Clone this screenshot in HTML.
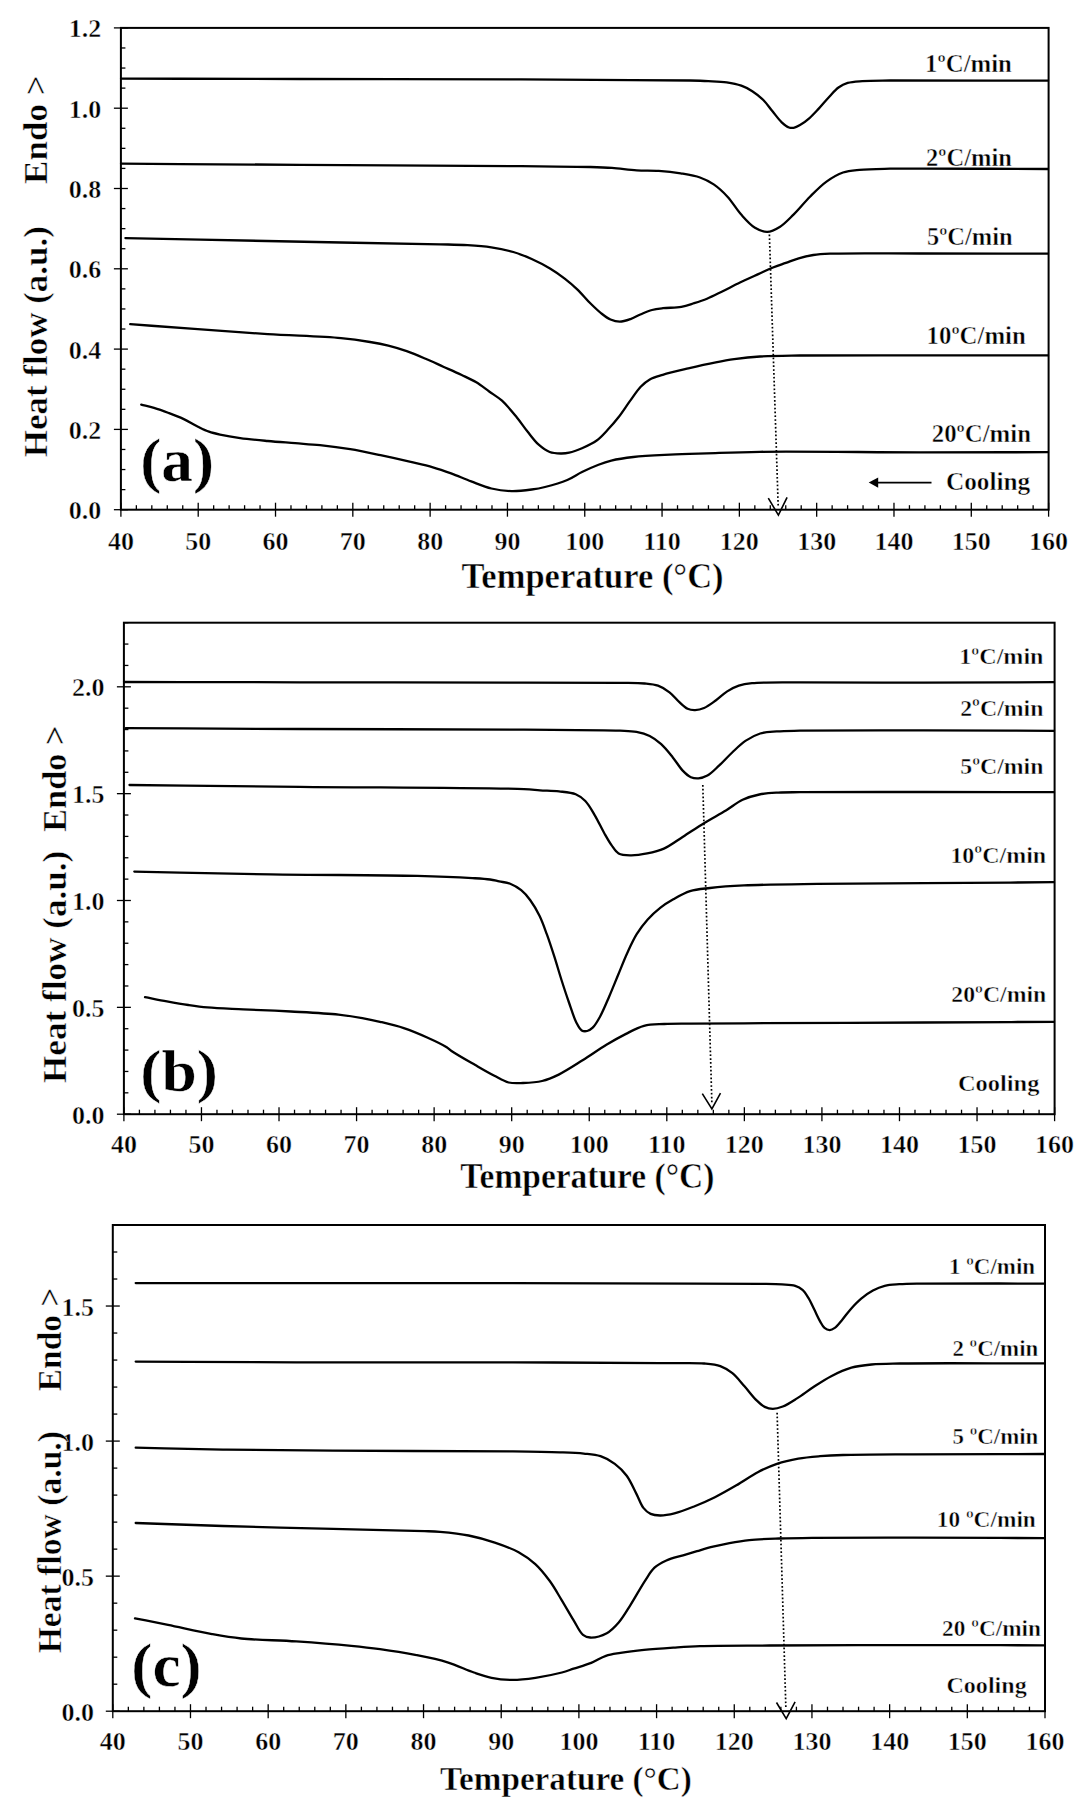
<!DOCTYPE html>
<html><head><meta charset="utf-8"><style>
html,body{margin:0;padding:0;background:#fff;}
svg{display:block;}
text{font-family:"Liberation Serif", serif;font-weight:bold;fill:#000;stroke:#fff;stroke-width:0.45px;paint-order:fill;}
</style></head><body>
<svg width="1091" height="1814" viewBox="0 0 1091 1814">
<rect x="120.90" y="27.90" width="927.70" height="481.80" fill="none" stroke="#000" stroke-width="2"/>
<line x1="120.90" y1="502.70" x2="120.90" y2="516.70" stroke="#000" stroke-width="1.3"/>
<text x="120.90" y="550.40" text-anchor="middle" style="font-size:26px">40</text>
<line x1="136.36" y1="505.20" x2="136.36" y2="509.70" stroke="#000" stroke-width="1.3"/>
<line x1="151.82" y1="505.20" x2="151.82" y2="509.70" stroke="#000" stroke-width="1.3"/>
<line x1="167.28" y1="505.20" x2="167.28" y2="509.70" stroke="#000" stroke-width="1.3"/>
<line x1="182.75" y1="505.20" x2="182.75" y2="509.70" stroke="#000" stroke-width="1.3"/>
<line x1="198.21" y1="502.70" x2="198.21" y2="516.70" stroke="#000" stroke-width="1.3"/>
<text x="198.21" y="550.40" text-anchor="middle" style="font-size:26px">50</text>
<line x1="213.67" y1="505.20" x2="213.67" y2="509.70" stroke="#000" stroke-width="1.3"/>
<line x1="229.13" y1="505.20" x2="229.13" y2="509.70" stroke="#000" stroke-width="1.3"/>
<line x1="244.59" y1="505.20" x2="244.59" y2="509.70" stroke="#000" stroke-width="1.3"/>
<line x1="260.05" y1="505.20" x2="260.05" y2="509.70" stroke="#000" stroke-width="1.3"/>
<line x1="275.52" y1="502.70" x2="275.52" y2="516.70" stroke="#000" stroke-width="1.3"/>
<text x="275.52" y="550.40" text-anchor="middle" style="font-size:26px">60</text>
<line x1="290.98" y1="505.20" x2="290.98" y2="509.70" stroke="#000" stroke-width="1.3"/>
<line x1="306.44" y1="505.20" x2="306.44" y2="509.70" stroke="#000" stroke-width="1.3"/>
<line x1="321.90" y1="505.20" x2="321.90" y2="509.70" stroke="#000" stroke-width="1.3"/>
<line x1="337.36" y1="505.20" x2="337.36" y2="509.70" stroke="#000" stroke-width="1.3"/>
<line x1="352.82" y1="502.70" x2="352.82" y2="516.70" stroke="#000" stroke-width="1.3"/>
<text x="352.82" y="550.40" text-anchor="middle" style="font-size:26px">70</text>
<line x1="368.29" y1="505.20" x2="368.29" y2="509.70" stroke="#000" stroke-width="1.3"/>
<line x1="383.75" y1="505.20" x2="383.75" y2="509.70" stroke="#000" stroke-width="1.3"/>
<line x1="399.21" y1="505.20" x2="399.21" y2="509.70" stroke="#000" stroke-width="1.3"/>
<line x1="414.67" y1="505.20" x2="414.67" y2="509.70" stroke="#000" stroke-width="1.3"/>
<line x1="430.13" y1="502.70" x2="430.13" y2="516.70" stroke="#000" stroke-width="1.3"/>
<text x="430.13" y="550.40" text-anchor="middle" style="font-size:26px">80</text>
<line x1="445.59" y1="505.20" x2="445.59" y2="509.70" stroke="#000" stroke-width="1.3"/>
<line x1="461.06" y1="505.20" x2="461.06" y2="509.70" stroke="#000" stroke-width="1.3"/>
<line x1="476.52" y1="505.20" x2="476.52" y2="509.70" stroke="#000" stroke-width="1.3"/>
<line x1="491.98" y1="505.20" x2="491.98" y2="509.70" stroke="#000" stroke-width="1.3"/>
<line x1="507.44" y1="502.70" x2="507.44" y2="516.70" stroke="#000" stroke-width="1.3"/>
<text x="507.44" y="550.40" text-anchor="middle" style="font-size:26px">90</text>
<line x1="522.90" y1="505.20" x2="522.90" y2="509.70" stroke="#000" stroke-width="1.3"/>
<line x1="538.37" y1="505.20" x2="538.37" y2="509.70" stroke="#000" stroke-width="1.3"/>
<line x1="553.83" y1="505.20" x2="553.83" y2="509.70" stroke="#000" stroke-width="1.3"/>
<line x1="569.29" y1="505.20" x2="569.29" y2="509.70" stroke="#000" stroke-width="1.3"/>
<line x1="584.75" y1="502.70" x2="584.75" y2="516.70" stroke="#000" stroke-width="1.3"/>
<text x="584.75" y="550.40" text-anchor="middle" style="font-size:26px">100</text>
<line x1="600.21" y1="505.20" x2="600.21" y2="509.70" stroke="#000" stroke-width="1.3"/>
<line x1="615.67" y1="505.20" x2="615.67" y2="509.70" stroke="#000" stroke-width="1.3"/>
<line x1="631.13" y1="505.20" x2="631.13" y2="509.70" stroke="#000" stroke-width="1.3"/>
<line x1="646.60" y1="505.20" x2="646.60" y2="509.70" stroke="#000" stroke-width="1.3"/>
<line x1="662.06" y1="502.70" x2="662.06" y2="516.70" stroke="#000" stroke-width="1.3"/>
<text x="662.06" y="550.40" text-anchor="middle" style="font-size:26px">110</text>
<line x1="677.52" y1="505.20" x2="677.52" y2="509.70" stroke="#000" stroke-width="1.3"/>
<line x1="692.98" y1="505.20" x2="692.98" y2="509.70" stroke="#000" stroke-width="1.3"/>
<line x1="708.44" y1="505.20" x2="708.44" y2="509.70" stroke="#000" stroke-width="1.3"/>
<line x1="723.90" y1="505.20" x2="723.90" y2="509.70" stroke="#000" stroke-width="1.3"/>
<line x1="739.37" y1="502.70" x2="739.37" y2="516.70" stroke="#000" stroke-width="1.3"/>
<text x="739.37" y="550.40" text-anchor="middle" style="font-size:26px">120</text>
<line x1="754.83" y1="505.20" x2="754.83" y2="509.70" stroke="#000" stroke-width="1.3"/>
<line x1="770.29" y1="505.20" x2="770.29" y2="509.70" stroke="#000" stroke-width="1.3"/>
<line x1="785.75" y1="505.20" x2="785.75" y2="509.70" stroke="#000" stroke-width="1.3"/>
<line x1="801.21" y1="505.20" x2="801.21" y2="509.70" stroke="#000" stroke-width="1.3"/>
<line x1="816.67" y1="502.70" x2="816.67" y2="516.70" stroke="#000" stroke-width="1.3"/>
<text x="816.67" y="550.40" text-anchor="middle" style="font-size:26px">130</text>
<line x1="832.14" y1="505.20" x2="832.14" y2="509.70" stroke="#000" stroke-width="1.3"/>
<line x1="847.60" y1="505.20" x2="847.60" y2="509.70" stroke="#000" stroke-width="1.3"/>
<line x1="863.06" y1="505.20" x2="863.06" y2="509.70" stroke="#000" stroke-width="1.3"/>
<line x1="878.52" y1="505.20" x2="878.52" y2="509.70" stroke="#000" stroke-width="1.3"/>
<line x1="893.98" y1="502.70" x2="893.98" y2="516.70" stroke="#000" stroke-width="1.3"/>
<text x="893.98" y="550.40" text-anchor="middle" style="font-size:26px">140</text>
<line x1="909.44" y1="505.20" x2="909.44" y2="509.70" stroke="#000" stroke-width="1.3"/>
<line x1="924.91" y1="505.20" x2="924.91" y2="509.70" stroke="#000" stroke-width="1.3"/>
<line x1="940.37" y1="505.20" x2="940.37" y2="509.70" stroke="#000" stroke-width="1.3"/>
<line x1="955.83" y1="505.20" x2="955.83" y2="509.70" stroke="#000" stroke-width="1.3"/>
<line x1="971.29" y1="502.70" x2="971.29" y2="516.70" stroke="#000" stroke-width="1.3"/>
<text x="971.29" y="550.40" text-anchor="middle" style="font-size:26px">150</text>
<line x1="986.75" y1="505.20" x2="986.75" y2="509.70" stroke="#000" stroke-width="1.3"/>
<line x1="1002.21" y1="505.20" x2="1002.21" y2="509.70" stroke="#000" stroke-width="1.3"/>
<line x1="1017.68" y1="505.20" x2="1017.68" y2="509.70" stroke="#000" stroke-width="1.3"/>
<line x1="1033.14" y1="505.20" x2="1033.14" y2="509.70" stroke="#000" stroke-width="1.3"/>
<line x1="1048.60" y1="502.70" x2="1048.60" y2="516.70" stroke="#000" stroke-width="1.3"/>
<text x="1048.60" y="550.40" text-anchor="middle" style="font-size:26px">160</text>
<line x1="113.90" y1="509.70" x2="127.90" y2="509.70" stroke="#000" stroke-width="1.3"/>
<text x="101.20" y="519.20" text-anchor="end" style="font-size:26px">0.0</text>
<line x1="120.90" y1="489.62" x2="125.40" y2="489.62" stroke="#000" stroke-width="1.3"/>
<line x1="120.90" y1="469.55" x2="125.40" y2="469.55" stroke="#000" stroke-width="1.3"/>
<line x1="120.90" y1="449.47" x2="125.40" y2="449.47" stroke="#000" stroke-width="1.3"/>
<line x1="113.90" y1="429.40" x2="127.90" y2="429.40" stroke="#000" stroke-width="1.3"/>
<text x="101.20" y="438.90" text-anchor="end" style="font-size:26px">0.2</text>
<line x1="120.90" y1="409.32" x2="125.40" y2="409.32" stroke="#000" stroke-width="1.3"/>
<line x1="120.90" y1="389.25" x2="125.40" y2="389.25" stroke="#000" stroke-width="1.3"/>
<line x1="120.90" y1="369.17" x2="125.40" y2="369.17" stroke="#000" stroke-width="1.3"/>
<line x1="113.90" y1="349.10" x2="127.90" y2="349.10" stroke="#000" stroke-width="1.3"/>
<text x="101.20" y="358.60" text-anchor="end" style="font-size:26px">0.4</text>
<line x1="120.90" y1="329.02" x2="125.40" y2="329.02" stroke="#000" stroke-width="1.3"/>
<line x1="120.90" y1="308.95" x2="125.40" y2="308.95" stroke="#000" stroke-width="1.3"/>
<line x1="120.90" y1="288.88" x2="125.40" y2="288.88" stroke="#000" stroke-width="1.3"/>
<line x1="113.90" y1="268.80" x2="127.90" y2="268.80" stroke="#000" stroke-width="1.3"/>
<text x="101.20" y="278.30" text-anchor="end" style="font-size:26px">0.6</text>
<line x1="120.90" y1="248.72" x2="125.40" y2="248.72" stroke="#000" stroke-width="1.3"/>
<line x1="120.90" y1="228.65" x2="125.40" y2="228.65" stroke="#000" stroke-width="1.3"/>
<line x1="120.90" y1="208.57" x2="125.40" y2="208.57" stroke="#000" stroke-width="1.3"/>
<line x1="113.90" y1="188.50" x2="127.90" y2="188.50" stroke="#000" stroke-width="1.3"/>
<text x="101.20" y="198.00" text-anchor="end" style="font-size:26px">0.8</text>
<line x1="120.90" y1="168.42" x2="125.40" y2="168.42" stroke="#000" stroke-width="1.3"/>
<line x1="120.90" y1="148.35" x2="125.40" y2="148.35" stroke="#000" stroke-width="1.3"/>
<line x1="120.90" y1="128.27" x2="125.40" y2="128.27" stroke="#000" stroke-width="1.3"/>
<line x1="113.90" y1="108.20" x2="127.90" y2="108.20" stroke="#000" stroke-width="1.3"/>
<text x="101.20" y="117.70" text-anchor="end" style="font-size:26px">1.0</text>
<line x1="120.90" y1="88.12" x2="125.40" y2="88.12" stroke="#000" stroke-width="1.3"/>
<line x1="120.90" y1="68.05" x2="125.40" y2="68.05" stroke="#000" stroke-width="1.3"/>
<line x1="120.90" y1="47.97" x2="125.40" y2="47.97" stroke="#000" stroke-width="1.3"/>
<line x1="113.90" y1="27.90" x2="127.90" y2="27.90" stroke="#000" stroke-width="1.3"/>
<text x="101.20" y="37.40" text-anchor="end" style="font-size:26px">1.2</text>
<rect x="123.90" y="622.70" width="930.70" height="491.50" fill="none" stroke="#000" stroke-width="2"/>
<line x1="123.90" y1="1107.20" x2="123.90" y2="1121.20" stroke="#000" stroke-width="1.3"/>
<text x="123.90" y="1152.80" text-anchor="middle" style="font-size:26px">40</text>
<line x1="139.41" y1="1109.70" x2="139.41" y2="1114.20" stroke="#000" stroke-width="1.3"/>
<line x1="154.92" y1="1109.70" x2="154.92" y2="1114.20" stroke="#000" stroke-width="1.3"/>
<line x1="170.44" y1="1109.70" x2="170.44" y2="1114.20" stroke="#000" stroke-width="1.3"/>
<line x1="185.95" y1="1109.70" x2="185.95" y2="1114.20" stroke="#000" stroke-width="1.3"/>
<line x1="201.46" y1="1107.20" x2="201.46" y2="1121.20" stroke="#000" stroke-width="1.3"/>
<text x="201.46" y="1152.80" text-anchor="middle" style="font-size:26px">50</text>
<line x1="216.97" y1="1109.70" x2="216.97" y2="1114.20" stroke="#000" stroke-width="1.3"/>
<line x1="232.48" y1="1109.70" x2="232.48" y2="1114.20" stroke="#000" stroke-width="1.3"/>
<line x1="247.99" y1="1109.70" x2="247.99" y2="1114.20" stroke="#000" stroke-width="1.3"/>
<line x1="263.50" y1="1109.70" x2="263.50" y2="1114.20" stroke="#000" stroke-width="1.3"/>
<line x1="279.02" y1="1107.20" x2="279.02" y2="1121.20" stroke="#000" stroke-width="1.3"/>
<text x="279.02" y="1152.80" text-anchor="middle" style="font-size:26px">60</text>
<line x1="294.53" y1="1109.70" x2="294.53" y2="1114.20" stroke="#000" stroke-width="1.3"/>
<line x1="310.04" y1="1109.70" x2="310.04" y2="1114.20" stroke="#000" stroke-width="1.3"/>
<line x1="325.55" y1="1109.70" x2="325.55" y2="1114.20" stroke="#000" stroke-width="1.3"/>
<line x1="341.06" y1="1109.70" x2="341.06" y2="1114.20" stroke="#000" stroke-width="1.3"/>
<line x1="356.57" y1="1107.20" x2="356.57" y2="1121.20" stroke="#000" stroke-width="1.3"/>
<text x="356.57" y="1152.80" text-anchor="middle" style="font-size:26px">70</text>
<line x1="372.09" y1="1109.70" x2="372.09" y2="1114.20" stroke="#000" stroke-width="1.3"/>
<line x1="387.60" y1="1109.70" x2="387.60" y2="1114.20" stroke="#000" stroke-width="1.3"/>
<line x1="403.11" y1="1109.70" x2="403.11" y2="1114.20" stroke="#000" stroke-width="1.3"/>
<line x1="418.62" y1="1109.70" x2="418.62" y2="1114.20" stroke="#000" stroke-width="1.3"/>
<line x1="434.13" y1="1107.20" x2="434.13" y2="1121.20" stroke="#000" stroke-width="1.3"/>
<text x="434.13" y="1152.80" text-anchor="middle" style="font-size:26px">80</text>
<line x1="449.64" y1="1109.70" x2="449.64" y2="1114.20" stroke="#000" stroke-width="1.3"/>
<line x1="465.16" y1="1109.70" x2="465.16" y2="1114.20" stroke="#000" stroke-width="1.3"/>
<line x1="480.67" y1="1109.70" x2="480.67" y2="1114.20" stroke="#000" stroke-width="1.3"/>
<line x1="496.18" y1="1109.70" x2="496.18" y2="1114.20" stroke="#000" stroke-width="1.3"/>
<line x1="511.69" y1="1107.20" x2="511.69" y2="1121.20" stroke="#000" stroke-width="1.3"/>
<text x="511.69" y="1152.80" text-anchor="middle" style="font-size:26px">90</text>
<line x1="527.20" y1="1109.70" x2="527.20" y2="1114.20" stroke="#000" stroke-width="1.3"/>
<line x1="542.72" y1="1109.70" x2="542.72" y2="1114.20" stroke="#000" stroke-width="1.3"/>
<line x1="558.23" y1="1109.70" x2="558.23" y2="1114.20" stroke="#000" stroke-width="1.3"/>
<line x1="573.74" y1="1109.70" x2="573.74" y2="1114.20" stroke="#000" stroke-width="1.3"/>
<line x1="589.25" y1="1107.20" x2="589.25" y2="1121.20" stroke="#000" stroke-width="1.3"/>
<text x="589.25" y="1152.80" text-anchor="middle" style="font-size:26px">100</text>
<line x1="604.76" y1="1109.70" x2="604.76" y2="1114.20" stroke="#000" stroke-width="1.3"/>
<line x1="620.27" y1="1109.70" x2="620.27" y2="1114.20" stroke="#000" stroke-width="1.3"/>
<line x1="635.78" y1="1109.70" x2="635.78" y2="1114.20" stroke="#000" stroke-width="1.3"/>
<line x1="651.30" y1="1109.70" x2="651.30" y2="1114.20" stroke="#000" stroke-width="1.3"/>
<line x1="666.81" y1="1107.20" x2="666.81" y2="1121.20" stroke="#000" stroke-width="1.3"/>
<text x="666.81" y="1152.80" text-anchor="middle" style="font-size:26px">110</text>
<line x1="682.32" y1="1109.70" x2="682.32" y2="1114.20" stroke="#000" stroke-width="1.3"/>
<line x1="697.83" y1="1109.70" x2="697.83" y2="1114.20" stroke="#000" stroke-width="1.3"/>
<line x1="713.34" y1="1109.70" x2="713.34" y2="1114.20" stroke="#000" stroke-width="1.3"/>
<line x1="728.85" y1="1109.70" x2="728.85" y2="1114.20" stroke="#000" stroke-width="1.3"/>
<line x1="744.37" y1="1107.20" x2="744.37" y2="1121.20" stroke="#000" stroke-width="1.3"/>
<text x="744.37" y="1152.80" text-anchor="middle" style="font-size:26px">120</text>
<line x1="759.88" y1="1109.70" x2="759.88" y2="1114.20" stroke="#000" stroke-width="1.3"/>
<line x1="775.39" y1="1109.70" x2="775.39" y2="1114.20" stroke="#000" stroke-width="1.3"/>
<line x1="790.90" y1="1109.70" x2="790.90" y2="1114.20" stroke="#000" stroke-width="1.3"/>
<line x1="806.41" y1="1109.70" x2="806.41" y2="1114.20" stroke="#000" stroke-width="1.3"/>
<line x1="821.92" y1="1107.20" x2="821.92" y2="1121.20" stroke="#000" stroke-width="1.3"/>
<text x="821.92" y="1152.80" text-anchor="middle" style="font-size:26px">130</text>
<line x1="837.44" y1="1109.70" x2="837.44" y2="1114.20" stroke="#000" stroke-width="1.3"/>
<line x1="852.95" y1="1109.70" x2="852.95" y2="1114.20" stroke="#000" stroke-width="1.3"/>
<line x1="868.46" y1="1109.70" x2="868.46" y2="1114.20" stroke="#000" stroke-width="1.3"/>
<line x1="883.97" y1="1109.70" x2="883.97" y2="1114.20" stroke="#000" stroke-width="1.3"/>
<line x1="899.48" y1="1107.20" x2="899.48" y2="1121.20" stroke="#000" stroke-width="1.3"/>
<text x="899.48" y="1152.80" text-anchor="middle" style="font-size:26px">140</text>
<line x1="914.99" y1="1109.70" x2="914.99" y2="1114.20" stroke="#000" stroke-width="1.3"/>
<line x1="930.51" y1="1109.70" x2="930.51" y2="1114.20" stroke="#000" stroke-width="1.3"/>
<line x1="946.02" y1="1109.70" x2="946.02" y2="1114.20" stroke="#000" stroke-width="1.3"/>
<line x1="961.53" y1="1109.70" x2="961.53" y2="1114.20" stroke="#000" stroke-width="1.3"/>
<line x1="977.04" y1="1107.20" x2="977.04" y2="1121.20" stroke="#000" stroke-width="1.3"/>
<text x="977.04" y="1152.80" text-anchor="middle" style="font-size:26px">150</text>
<line x1="992.55" y1="1109.70" x2="992.55" y2="1114.20" stroke="#000" stroke-width="1.3"/>
<line x1="1008.06" y1="1109.70" x2="1008.06" y2="1114.20" stroke="#000" stroke-width="1.3"/>
<line x1="1023.58" y1="1109.70" x2="1023.58" y2="1114.20" stroke="#000" stroke-width="1.3"/>
<line x1="1039.09" y1="1109.70" x2="1039.09" y2="1114.20" stroke="#000" stroke-width="1.3"/>
<line x1="1054.60" y1="1107.20" x2="1054.60" y2="1121.20" stroke="#000" stroke-width="1.3"/>
<text x="1054.60" y="1152.80" text-anchor="middle" style="font-size:26px">160</text>
<line x1="116.90" y1="1114.20" x2="130.90" y2="1114.20" stroke="#000" stroke-width="1.3"/>
<text x="104.60" y="1123.70" text-anchor="end" style="font-size:26px">0.0</text>
<line x1="123.90" y1="1092.83" x2="128.40" y2="1092.83" stroke="#000" stroke-width="1.3"/>
<line x1="123.90" y1="1071.46" x2="128.40" y2="1071.46" stroke="#000" stroke-width="1.3"/>
<line x1="123.90" y1="1050.09" x2="128.40" y2="1050.09" stroke="#000" stroke-width="1.3"/>
<line x1="123.90" y1="1028.72" x2="128.40" y2="1028.72" stroke="#000" stroke-width="1.3"/>
<line x1="116.90" y1="1007.35" x2="130.90" y2="1007.35" stroke="#000" stroke-width="1.3"/>
<text x="104.60" y="1016.85" text-anchor="end" style="font-size:26px">0.5</text>
<line x1="123.90" y1="985.98" x2="128.40" y2="985.98" stroke="#000" stroke-width="1.3"/>
<line x1="123.90" y1="964.61" x2="128.40" y2="964.61" stroke="#000" stroke-width="1.3"/>
<line x1="123.90" y1="943.24" x2="128.40" y2="943.24" stroke="#000" stroke-width="1.3"/>
<line x1="123.90" y1="921.87" x2="128.40" y2="921.87" stroke="#000" stroke-width="1.3"/>
<line x1="116.90" y1="900.50" x2="130.90" y2="900.50" stroke="#000" stroke-width="1.3"/>
<text x="104.60" y="910.00" text-anchor="end" style="font-size:26px">1.0</text>
<line x1="123.90" y1="879.13" x2="128.40" y2="879.13" stroke="#000" stroke-width="1.3"/>
<line x1="123.90" y1="857.77" x2="128.40" y2="857.77" stroke="#000" stroke-width="1.3"/>
<line x1="123.90" y1="836.40" x2="128.40" y2="836.40" stroke="#000" stroke-width="1.3"/>
<line x1="123.90" y1="815.03" x2="128.40" y2="815.03" stroke="#000" stroke-width="1.3"/>
<line x1="116.90" y1="793.66" x2="130.90" y2="793.66" stroke="#000" stroke-width="1.3"/>
<text x="104.60" y="803.16" text-anchor="end" style="font-size:26px">1.5</text>
<line x1="123.90" y1="772.29" x2="128.40" y2="772.29" stroke="#000" stroke-width="1.3"/>
<line x1="123.90" y1="750.92" x2="128.40" y2="750.92" stroke="#000" stroke-width="1.3"/>
<line x1="123.90" y1="729.55" x2="128.40" y2="729.55" stroke="#000" stroke-width="1.3"/>
<line x1="123.90" y1="708.18" x2="128.40" y2="708.18" stroke="#000" stroke-width="1.3"/>
<line x1="116.90" y1="686.81" x2="130.90" y2="686.81" stroke="#000" stroke-width="1.3"/>
<text x="104.60" y="696.31" text-anchor="end" style="font-size:26px">2.0</text>
<line x1="123.90" y1="665.44" x2="128.40" y2="665.44" stroke="#000" stroke-width="1.3"/>
<line x1="123.90" y1="644.07" x2="128.40" y2="644.07" stroke="#000" stroke-width="1.3"/>
<line x1="123.90" y1="622.70" x2="128.40" y2="622.70" stroke="#000" stroke-width="1.3"/>
<rect x="112.80" y="1225.00" width="932.20" height="486.20" fill="none" stroke="#000" stroke-width="2"/>
<line x1="112.80" y1="1704.20" x2="112.80" y2="1718.20" stroke="#000" stroke-width="1.3"/>
<text x="112.80" y="1750.40" text-anchor="middle" style="font-size:26px">40</text>
<line x1="128.34" y1="1706.70" x2="128.34" y2="1711.20" stroke="#000" stroke-width="1.3"/>
<line x1="143.87" y1="1706.70" x2="143.87" y2="1711.20" stroke="#000" stroke-width="1.3"/>
<line x1="159.41" y1="1706.70" x2="159.41" y2="1711.20" stroke="#000" stroke-width="1.3"/>
<line x1="174.95" y1="1706.70" x2="174.95" y2="1711.20" stroke="#000" stroke-width="1.3"/>
<line x1="190.48" y1="1704.20" x2="190.48" y2="1718.20" stroke="#000" stroke-width="1.3"/>
<text x="190.48" y="1750.40" text-anchor="middle" style="font-size:26px">50</text>
<line x1="206.02" y1="1706.70" x2="206.02" y2="1711.20" stroke="#000" stroke-width="1.3"/>
<line x1="221.56" y1="1706.70" x2="221.56" y2="1711.20" stroke="#000" stroke-width="1.3"/>
<line x1="237.09" y1="1706.70" x2="237.09" y2="1711.20" stroke="#000" stroke-width="1.3"/>
<line x1="252.63" y1="1706.70" x2="252.63" y2="1711.20" stroke="#000" stroke-width="1.3"/>
<line x1="268.17" y1="1704.20" x2="268.17" y2="1718.20" stroke="#000" stroke-width="1.3"/>
<text x="268.17" y="1750.40" text-anchor="middle" style="font-size:26px">60</text>
<line x1="283.70" y1="1706.70" x2="283.70" y2="1711.20" stroke="#000" stroke-width="1.3"/>
<line x1="299.24" y1="1706.70" x2="299.24" y2="1711.20" stroke="#000" stroke-width="1.3"/>
<line x1="314.78" y1="1706.70" x2="314.78" y2="1711.20" stroke="#000" stroke-width="1.3"/>
<line x1="330.31" y1="1706.70" x2="330.31" y2="1711.20" stroke="#000" stroke-width="1.3"/>
<line x1="345.85" y1="1704.20" x2="345.85" y2="1718.20" stroke="#000" stroke-width="1.3"/>
<text x="345.85" y="1750.40" text-anchor="middle" style="font-size:26px">70</text>
<line x1="361.39" y1="1706.70" x2="361.39" y2="1711.20" stroke="#000" stroke-width="1.3"/>
<line x1="376.92" y1="1706.70" x2="376.92" y2="1711.20" stroke="#000" stroke-width="1.3"/>
<line x1="392.46" y1="1706.70" x2="392.46" y2="1711.20" stroke="#000" stroke-width="1.3"/>
<line x1="408.00" y1="1706.70" x2="408.00" y2="1711.20" stroke="#000" stroke-width="1.3"/>
<line x1="423.53" y1="1704.20" x2="423.53" y2="1718.20" stroke="#000" stroke-width="1.3"/>
<text x="423.53" y="1750.40" text-anchor="middle" style="font-size:26px">80</text>
<line x1="439.07" y1="1706.70" x2="439.07" y2="1711.20" stroke="#000" stroke-width="1.3"/>
<line x1="454.61" y1="1706.70" x2="454.61" y2="1711.20" stroke="#000" stroke-width="1.3"/>
<line x1="470.14" y1="1706.70" x2="470.14" y2="1711.20" stroke="#000" stroke-width="1.3"/>
<line x1="485.68" y1="1706.70" x2="485.68" y2="1711.20" stroke="#000" stroke-width="1.3"/>
<line x1="501.22" y1="1704.20" x2="501.22" y2="1718.20" stroke="#000" stroke-width="1.3"/>
<text x="501.22" y="1750.40" text-anchor="middle" style="font-size:26px">90</text>
<line x1="516.75" y1="1706.70" x2="516.75" y2="1711.20" stroke="#000" stroke-width="1.3"/>
<line x1="532.29" y1="1706.70" x2="532.29" y2="1711.20" stroke="#000" stroke-width="1.3"/>
<line x1="547.83" y1="1706.70" x2="547.83" y2="1711.20" stroke="#000" stroke-width="1.3"/>
<line x1="563.36" y1="1706.70" x2="563.36" y2="1711.20" stroke="#000" stroke-width="1.3"/>
<line x1="578.90" y1="1704.20" x2="578.90" y2="1718.20" stroke="#000" stroke-width="1.3"/>
<text x="578.90" y="1750.40" text-anchor="middle" style="font-size:26px">100</text>
<line x1="594.44" y1="1706.70" x2="594.44" y2="1711.20" stroke="#000" stroke-width="1.3"/>
<line x1="609.97" y1="1706.70" x2="609.97" y2="1711.20" stroke="#000" stroke-width="1.3"/>
<line x1="625.51" y1="1706.70" x2="625.51" y2="1711.20" stroke="#000" stroke-width="1.3"/>
<line x1="641.05" y1="1706.70" x2="641.05" y2="1711.20" stroke="#000" stroke-width="1.3"/>
<line x1="656.58" y1="1704.20" x2="656.58" y2="1718.20" stroke="#000" stroke-width="1.3"/>
<text x="656.58" y="1750.40" text-anchor="middle" style="font-size:26px">110</text>
<line x1="672.12" y1="1706.70" x2="672.12" y2="1711.20" stroke="#000" stroke-width="1.3"/>
<line x1="687.66" y1="1706.70" x2="687.66" y2="1711.20" stroke="#000" stroke-width="1.3"/>
<line x1="703.19" y1="1706.70" x2="703.19" y2="1711.20" stroke="#000" stroke-width="1.3"/>
<line x1="718.73" y1="1706.70" x2="718.73" y2="1711.20" stroke="#000" stroke-width="1.3"/>
<line x1="734.27" y1="1704.20" x2="734.27" y2="1718.20" stroke="#000" stroke-width="1.3"/>
<text x="734.27" y="1750.40" text-anchor="middle" style="font-size:26px">120</text>
<line x1="749.80" y1="1706.70" x2="749.80" y2="1711.20" stroke="#000" stroke-width="1.3"/>
<line x1="765.34" y1="1706.70" x2="765.34" y2="1711.20" stroke="#000" stroke-width="1.3"/>
<line x1="780.88" y1="1706.70" x2="780.88" y2="1711.20" stroke="#000" stroke-width="1.3"/>
<line x1="796.41" y1="1706.70" x2="796.41" y2="1711.20" stroke="#000" stroke-width="1.3"/>
<line x1="811.95" y1="1704.20" x2="811.95" y2="1718.20" stroke="#000" stroke-width="1.3"/>
<text x="811.95" y="1750.40" text-anchor="middle" style="font-size:26px">130</text>
<line x1="827.49" y1="1706.70" x2="827.49" y2="1711.20" stroke="#000" stroke-width="1.3"/>
<line x1="843.02" y1="1706.70" x2="843.02" y2="1711.20" stroke="#000" stroke-width="1.3"/>
<line x1="858.56" y1="1706.70" x2="858.56" y2="1711.20" stroke="#000" stroke-width="1.3"/>
<line x1="874.10" y1="1706.70" x2="874.10" y2="1711.20" stroke="#000" stroke-width="1.3"/>
<line x1="889.63" y1="1704.20" x2="889.63" y2="1718.20" stroke="#000" stroke-width="1.3"/>
<text x="889.63" y="1750.40" text-anchor="middle" style="font-size:26px">140</text>
<line x1="905.17" y1="1706.70" x2="905.17" y2="1711.20" stroke="#000" stroke-width="1.3"/>
<line x1="920.71" y1="1706.70" x2="920.71" y2="1711.20" stroke="#000" stroke-width="1.3"/>
<line x1="936.24" y1="1706.70" x2="936.24" y2="1711.20" stroke="#000" stroke-width="1.3"/>
<line x1="951.78" y1="1706.70" x2="951.78" y2="1711.20" stroke="#000" stroke-width="1.3"/>
<line x1="967.32" y1="1704.20" x2="967.32" y2="1718.20" stroke="#000" stroke-width="1.3"/>
<text x="967.32" y="1750.40" text-anchor="middle" style="font-size:26px">150</text>
<line x1="982.85" y1="1706.70" x2="982.85" y2="1711.20" stroke="#000" stroke-width="1.3"/>
<line x1="998.39" y1="1706.70" x2="998.39" y2="1711.20" stroke="#000" stroke-width="1.3"/>
<line x1="1013.93" y1="1706.70" x2="1013.93" y2="1711.20" stroke="#000" stroke-width="1.3"/>
<line x1="1029.46" y1="1706.70" x2="1029.46" y2="1711.20" stroke="#000" stroke-width="1.3"/>
<line x1="1045.00" y1="1704.20" x2="1045.00" y2="1718.20" stroke="#000" stroke-width="1.3"/>
<text x="1045.00" y="1750.40" text-anchor="middle" style="font-size:26px">160</text>
<line x1="105.80" y1="1711.20" x2="119.80" y2="1711.20" stroke="#000" stroke-width="1.3"/>
<text x="94.00" y="1720.70" text-anchor="end" style="font-size:26px">0.0</text>
<line x1="112.80" y1="1684.19" x2="117.30" y2="1684.19" stroke="#000" stroke-width="1.3"/>
<line x1="112.80" y1="1657.18" x2="117.30" y2="1657.18" stroke="#000" stroke-width="1.3"/>
<line x1="112.80" y1="1630.17" x2="117.30" y2="1630.17" stroke="#000" stroke-width="1.3"/>
<line x1="112.80" y1="1603.16" x2="117.30" y2="1603.16" stroke="#000" stroke-width="1.3"/>
<line x1="105.80" y1="1576.14" x2="119.80" y2="1576.14" stroke="#000" stroke-width="1.3"/>
<text x="94.00" y="1585.64" text-anchor="end" style="font-size:26px">0.5</text>
<line x1="112.80" y1="1549.13" x2="117.30" y2="1549.13" stroke="#000" stroke-width="1.3"/>
<line x1="112.80" y1="1522.12" x2="117.30" y2="1522.12" stroke="#000" stroke-width="1.3"/>
<line x1="112.80" y1="1495.11" x2="117.30" y2="1495.11" stroke="#000" stroke-width="1.3"/>
<line x1="112.80" y1="1468.10" x2="117.30" y2="1468.10" stroke="#000" stroke-width="1.3"/>
<line x1="105.80" y1="1441.09" x2="119.80" y2="1441.09" stroke="#000" stroke-width="1.3"/>
<text x="94.00" y="1450.59" text-anchor="end" style="font-size:26px">1.0</text>
<line x1="112.80" y1="1414.08" x2="117.30" y2="1414.08" stroke="#000" stroke-width="1.3"/>
<line x1="112.80" y1="1387.07" x2="117.30" y2="1387.07" stroke="#000" stroke-width="1.3"/>
<line x1="112.80" y1="1360.06" x2="117.30" y2="1360.06" stroke="#000" stroke-width="1.3"/>
<line x1="112.80" y1="1333.04" x2="117.30" y2="1333.04" stroke="#000" stroke-width="1.3"/>
<line x1="105.80" y1="1306.03" x2="119.80" y2="1306.03" stroke="#000" stroke-width="1.3"/>
<text x="94.00" y="1315.53" text-anchor="end" style="font-size:26px">1.5</text>
<line x1="112.80" y1="1279.02" x2="117.30" y2="1279.02" stroke="#000" stroke-width="1.3"/>
<line x1="112.80" y1="1252.01" x2="117.30" y2="1252.01" stroke="#000" stroke-width="1.3"/>
<line x1="112.80" y1="1225.00" x2="117.30" y2="1225.00" stroke="#000" stroke-width="1.3"/>
<text transform="translate(461.48,587.80) scale(0.9810,1)" style="font-size:35.2px">Temperature (°C)</text>
<text transform="translate(460.30,1187.60) scale(0.9622,1)" style="font-size:34.8px">Temperature (°C)</text>
<text transform="translate(440.00,1789.90) scale(0.9816,1)" style="font-size:33.8px">Temperature (°C)</text>
<text transform="translate(47.30,457.31) rotate(-90) scale(1.0599,1)" style="font-size:33.0px">Heat flow (a.u.)</text>
<text transform="translate(47.30,183.91) rotate(-90) scale(1.0610,1)" style="font-size:33.0px">Endo &gt;</text>
<text transform="translate(66.30,1083.02) rotate(-90) scale(1.0281,1)" style="font-size:34.2px">Heat flow (a.u.)</text>
<text transform="translate(66.30,831.70) rotate(-90) scale(1.0006,1)" style="font-size:34.2px">Endo &gt;</text>
<text transform="translate(60.70,1653.29) rotate(-90) scale(0.9834,1)" style="font-size:34.2px">Heat flow (a.u.)</text>
<text transform="translate(60.70,1391.18) rotate(-90) scale(0.9774,1)" style="font-size:34.2px">Endo &gt;</text>
<text transform="translate(140.25,481.30) scale(1.0445,1)" style="font-size:60.6px">(a)</text>
<text transform="translate(140.34,1091.20) scale(1.0623,1)" style="font-size:59.8px">(b)</text>
<text transform="translate(131.36,1685.80) scale(1.0425,1)" style="font-size:60.6px">(c)</text>
<text transform="translate(925.11,72.30) scale(1.0132,1)" style="font-size:24.5px">1ºC/min</text>
<text transform="translate(926.06,165.80) scale(1.0022,1)" style="font-size:24.5px">2ºC/min</text>
<text transform="translate(926.92,245.20) scale(1.0002,1)" style="font-size:24.5px">5ºC/min</text>
<text transform="translate(926.61,343.50) scale(1.0131,1)" style="font-size:24.5px">10ºC/min</text>
<text transform="translate(931.74,441.60) scale(1.0138,1)" style="font-size:24.5px">20ºC/min</text>
<text transform="translate(945.94,490.10) scale(1.0319,1)" style="font-size:24.5px">Cooling</text>
<text transform="translate(959.27,664.10) scale(1.0037,1)" style="font-size:24.0px">1ºC/min</text>
<text transform="translate(960.19,715.90) scale(0.9927,1)" style="font-size:24.0px">2ºC/min</text>
<text transform="translate(960.25,773.70) scale(0.9920,1)" style="font-size:24.0px">5ºC/min</text>
<text transform="translate(950.38,862.70) scale(0.9989,1)" style="font-size:24.0px">10ºC/min</text>
<text transform="translate(951.29,1001.90) scale(0.9915,1)" style="font-size:24.0px">20ºC/min</text>
<text transform="translate(957.98,1090.60) scale(1.0178,1)" style="font-size:24.0px">Cooling</text>
<text transform="translate(949.06,1274.20) scale(0.9658,1)" style="font-size:23.8px">1 ºC/min</text>
<text transform="translate(952.42,1356.10) scale(0.9640,1)" style="font-size:23.8px">2 ºC/min</text>
<text transform="translate(952.48,1444.00) scale(0.9633,1)" style="font-size:23.8px">5 ºC/min</text>
<text transform="translate(936.73,1527.00) scale(0.9811,1)" style="font-size:23.8px">10 ºC/min</text>
<text transform="translate(942.11,1636.30) scale(0.9783,1)" style="font-size:23.8px">20 ºC/min</text>
<text transform="translate(946.40,1692.70) scale(1.0123,1)" style="font-size:23.8px">Cooling</text>
<path d="M121.00,78.60 C180.67,78.73 237.19,78.89 300.00,79.00 C369.79,79.13 460.05,79.04 521.00,79.30 C564.00,79.49 600.00,79.88 631.00,80.10 C653.70,80.26 675.93,80.22 690.00,80.50 C697.84,80.66 702.19,80.78 708.30,81.10 C714.43,81.42 720.95,81.55 726.70,82.40 C731.88,83.16 736.86,84.12 741.30,85.70 C745.32,87.14 748.75,88.93 752.30,91.20 C756.10,93.63 759.96,96.68 763.30,100.00 C766.70,103.37 769.42,107.57 772.50,111.30 C775.55,115.00 778.63,119.46 781.70,122.30 C784.13,124.55 786.74,126.69 789.00,127.50 C790.62,128.08 791.97,128.07 793.60,127.80 C795.59,127.46 797.75,126.38 800.00,125.10 C802.88,123.46 806.24,120.87 809.20,118.30 C812.35,115.57 815.17,112.44 818.30,109.10 C821.84,105.32 825.74,100.48 829.30,96.70 C832.45,93.35 835.23,89.86 838.50,87.50 C841.41,85.41 844.18,83.96 847.70,82.90 C851.91,81.63 856.65,81.51 862.30,81.10 C870.06,80.54 876.98,80.63 890.00,80.50 C921.09,80.18 995.33,80.63 1048.00,80.70" fill="none" stroke="#000" stroke-width="2.3" stroke-linejoin="round" stroke-linecap="round"/>
<path d="M121.00,163.70 C180.67,164.07 237.19,164.41 300.00,164.80 C369.79,165.24 468.19,165.73 521.00,166.20 C550.51,166.46 573.40,166.56 590.00,167.00 C599.38,167.25 604.46,167.38 612.00,167.90 C620.00,168.45 628.70,169.80 636.70,170.30 C644.24,170.77 651.38,170.39 658.70,170.90 C666.04,171.42 673.63,172.25 680.70,173.40 C687.37,174.49 694.23,175.47 700.00,177.50 C705.08,179.29 709.31,181.42 713.70,184.40 C718.52,187.68 723.12,191.98 727.50,196.70 C732.34,201.91 736.41,209.25 741.20,214.60 C745.61,219.52 750.19,224.90 755.00,227.80 C758.96,230.19 763.21,232.01 767.30,231.90 C771.45,231.79 775.67,229.49 779.70,227.00 C784.45,224.06 788.81,219.23 793.50,214.60 C798.88,209.29 804.38,202.30 810.00,196.70 C815.39,191.33 820.74,185.73 826.50,181.60 C831.78,177.81 837.33,174.46 843.00,172.50 C848.35,170.65 853.14,170.43 859.50,169.80 C868.09,168.95 875.87,168.94 890.00,168.70 C922.15,168.15 995.33,168.90 1048.00,169.00" fill="none" stroke="#000" stroke-width="2.3" stroke-linejoin="round" stroke-linecap="round"/>
<path d="M125.40,238.10 C197.27,239.57 282.94,241.38 341.00,242.50 C380.34,243.26 417.22,243.72 440.00,244.30 C452.01,244.61 458.67,244.65 467.50,245.20 C475.73,245.71 483.56,246.24 491.30,247.40 C498.81,248.53 506.37,249.97 513.30,252.00 C519.79,253.90 525.65,256.29 531.70,259.00 C537.89,261.77 544.33,265.10 550.00,268.50 C555.27,271.66 560.06,275.03 564.70,278.60 C569.21,282.07 573.34,285.61 577.50,289.60 C581.88,293.81 586.12,299.15 590.30,303.30 C594.03,307.00 597.69,310.57 601.30,313.40 C604.41,315.83 607.31,318.11 610.50,319.50 C613.46,320.79 616.51,321.70 619.70,321.70 C623.16,321.70 626.99,320.33 630.50,319.10 C634.09,317.84 637.43,315.71 641.00,314.20 C644.60,312.68 648.28,311.00 652.00,310.00 C655.62,309.02 658.86,308.69 663.00,308.20 C668.32,307.58 675.78,307.88 681.30,306.90 C686.02,306.06 689.93,304.56 694.20,303.20 C698.50,301.83 702.63,300.50 707.00,298.70 C711.78,296.73 716.55,294.22 721.70,291.70 C727.48,288.87 733.87,285.44 740.00,282.50 C746.07,279.58 752.53,276.72 758.30,274.10 C763.46,271.76 768.23,269.42 773.00,267.50 C777.38,265.73 781.52,264.43 785.80,262.90 C790.09,261.36 794.23,259.60 798.70,258.30 C803.38,256.94 808.24,255.76 813.30,255.00 C818.65,254.19 822.20,254.01 830.00,253.70 C848.19,252.97 888.14,253.52 921.00,253.50 C959.81,253.47 1005.67,253.57 1048.00,253.60" fill="none" stroke="#000" stroke-width="2.3" stroke-linejoin="round" stroke-linecap="round"/>
<path d="M130.20,324.20 C151.57,325.77 172.21,327.31 194.30,328.90 C217.94,330.60 243.24,332.57 267.70,334.10 C292.14,335.63 322.16,336.32 341.00,338.10 C352.90,339.22 361.46,340.56 370.00,342.00 C376.82,343.15 382.23,344.18 388.30,345.70 C394.46,347.24 400.62,349.08 406.70,351.20 C412.86,353.34 418.93,355.93 425.00,358.50 C431.13,361.09 437.19,363.95 443.30,366.70 C449.43,369.45 455.95,372.27 461.70,375.00 C466.87,377.46 471.69,379.52 476.30,382.30 C480.85,385.03 484.91,388.43 489.20,391.50 C493.48,394.56 497.79,396.91 502.00,400.70 C506.98,405.19 512.25,411.78 516.70,417.20 C520.74,422.13 523.96,427.14 527.70,431.80 C531.30,436.29 534.77,441.22 538.70,444.70 C542.16,447.77 545.86,450.55 549.70,452.00 C553.22,453.33 557.27,453.43 560.70,453.50 C563.71,453.56 566.12,453.38 569.20,452.70 C573.08,451.85 577.66,450.09 582.00,448.20 C586.80,446.11 592.35,443.65 596.70,440.50 C600.88,437.47 604.12,433.61 607.70,429.80 C611.46,425.80 615.14,421.57 618.70,417.00 C622.49,412.14 626.00,406.50 629.70,401.40 C633.33,396.40 636.96,390.57 640.70,386.70 C643.68,383.61 646.32,381.34 649.80,379.40 C653.57,377.29 657.63,376.33 662.70,374.80 C669.74,372.67 679.60,370.44 688.30,368.40 C697.29,366.30 707.54,364.02 715.80,362.40 C722.53,361.08 727.53,360.13 734.20,359.20 C742.06,358.11 750.45,357.12 760.00,356.50 C771.86,355.73 783.07,355.73 800.00,355.50 C829.45,355.11 880.18,355.32 921.00,355.30 C962.82,355.28 1005.67,355.37 1048.00,355.40" fill="none" stroke="#000" stroke-width="2.3" stroke-linejoin="round" stroke-linecap="round"/>
<path d="M141.20,404.70 C145.47,405.77 149.62,406.59 154.00,407.90 C158.76,409.32 163.83,411.17 168.70,413.00 C173.60,414.84 178.48,416.66 183.30,418.90 C188.25,421.21 193.42,424.45 198.00,426.70 C201.90,428.62 205.28,430.37 209.00,431.70 C212.61,432.99 215.76,433.68 220.00,434.60 C225.70,435.84 232.93,437.09 240.20,438.10 C248.64,439.28 258.53,440.15 267.70,441.00 C276.86,441.85 286.27,442.48 295.20,443.20 C303.68,443.88 311.34,444.28 320.00,445.20 C329.58,446.22 340.15,447.54 350.20,449.20 C360.32,450.87 370.42,453.08 380.50,455.20 C390.59,457.32 401.42,459.74 410.70,461.90 C418.68,463.76 425.91,465.28 432.90,467.30 C439.31,469.15 444.91,471.13 451.10,473.40 C457.67,475.81 464.47,478.88 471.20,481.40 C477.90,483.91 484.58,486.88 491.40,488.50 C498.05,490.08 504.87,490.94 511.60,491.10 C518.30,491.26 525.71,490.30 531.70,489.50 C536.61,488.85 540.04,488.24 545.00,487.00 C551.52,485.37 560.76,482.78 567.30,480.00 C572.84,477.65 576.91,474.51 582.00,472.00 C587.29,469.40 593.30,466.68 598.50,464.70 C602.99,462.99 606.41,461.78 611.30,460.60 C617.60,459.08 625.01,457.95 633.30,457.00 C643.95,455.78 657.76,455.22 670.00,454.60 C682.23,453.98 693.33,453.72 706.70,453.30 C722.81,452.79 737.44,452.08 760.00,451.80 C799.20,451.31 870.51,452.24 921.00,452.30 C965.84,452.35 1005.67,452.23 1048.00,452.20" fill="none" stroke="#000" stroke-width="2.3" stroke-linejoin="round" stroke-linecap="round"/>
<path d="M124.00,682.00 C182.67,682.10 237.80,682.19 300.00,682.30 C370.17,682.42 464.92,682.59 524.00,682.70 C562.68,682.77 598.46,682.62 620.00,682.90 C630.93,683.04 637.75,682.84 644.70,683.50 C649.83,683.98 653.85,684.22 658.00,685.70 C662.11,687.17 665.97,689.60 669.50,692.30 C673.12,695.07 676.18,699.31 679.40,702.20 C682.19,704.71 684.76,707.51 687.60,708.80 C690.02,709.89 692.49,710.18 695.10,710.10 C697.97,710.02 701.03,709.31 704.10,708.00 C707.86,706.40 711.91,703.22 715.70,700.50 C719.61,697.70 723.22,693.91 727.20,691.40 C730.94,689.04 734.71,687.06 738.80,685.70 C742.97,684.31 746.19,683.79 752.00,683.20 C762.98,682.08 780.27,682.54 800.00,682.40 C831.71,682.17 882.18,682.73 924.00,682.70 C966.82,682.67 1010.67,682.37 1054.00,682.20" fill="none" stroke="#000" stroke-width="2.3" stroke-linejoin="round" stroke-linecap="round"/>
<path d="M125.80,728.20 C183.87,728.47 238.29,728.76 300.00,729.00 C369.98,729.27 464.92,729.30 524.00,729.70 C562.68,729.96 601.25,729.92 620.00,730.70 C627.78,731.02 631.36,730.93 636.50,731.90 C641.20,732.79 645.60,733.97 649.70,736.00 C653.84,738.05 657.54,740.89 661.20,744.20 C665.28,747.89 669.17,752.93 672.80,757.40 C676.32,761.73 679.33,767.11 682.70,770.60 C685.39,773.38 688.05,775.93 690.90,777.20 C693.32,778.27 695.81,778.59 698.40,778.40 C701.29,778.19 704.38,777.26 707.40,775.60 C711.24,773.48 715.08,769.32 719.00,765.70 C723.34,761.69 727.73,756.69 732.20,752.50 C736.54,748.44 740.65,744.09 745.40,740.90 C750.01,737.80 754.99,735.08 760.20,733.50 C765.42,731.91 770.71,731.87 776.70,731.40 C783.79,730.84 789.16,730.88 800.00,730.70 C825.00,730.29 882.18,730.39 924.00,730.40 C966.82,730.41 1010.67,730.67 1054.00,730.80" fill="none" stroke="#000" stroke-width="2.3" stroke-linejoin="round" stroke-linecap="round"/>
<path d="M129.50,785.00 C186.33,785.60 239.30,786.17 300.00,786.80 C369.58,787.52 492.52,787.76 524.00,789.10 C532.43,789.46 534.43,789.93 540.00,790.30 C546.08,790.70 552.98,790.69 559.10,791.40 C564.85,792.07 571.09,792.40 575.70,794.30 C579.54,795.88 582.36,798.00 585.30,801.00 C588.85,804.64 591.75,810.19 594.80,815.30 C598.11,820.86 601.28,827.88 604.30,833.20 C606.80,837.61 608.96,841.58 611.50,845.10 C613.75,848.22 615.54,851.69 618.60,853.40 C621.83,855.21 626.27,855.21 630.60,855.30 C635.68,855.41 641.70,854.50 647.20,853.40 C652.81,852.28 658.32,851.08 663.90,848.60 C670.25,845.78 676.47,840.84 683.00,836.70 C689.95,832.30 697.20,827.29 704.40,822.90 C711.50,818.56 719.23,814.56 725.90,810.50 C731.86,806.87 736.85,802.50 742.60,799.80 C748.00,797.27 753.49,795.70 759.30,794.50 C765.37,793.25 771.75,792.99 778.30,792.60 C785.29,792.19 789.80,792.30 800.00,792.20 C824.38,791.96 882.18,792.00 924.00,792.00 C966.82,792.00 1010.67,792.13 1054.00,792.20" fill="none" stroke="#000" stroke-width="2.3" stroke-linejoin="round" stroke-linecap="round"/>
<path d="M134.30,871.60 C179.77,872.53 224.41,873.69 270.70,874.40 C318.68,875.14 380.18,874.97 417.30,875.90 C440.04,876.47 459.03,877.31 472.30,878.10 C479.83,878.55 485.07,878.80 490.00,879.50 C493.58,880.01 496.00,880.73 499.20,881.40 C502.70,882.13 506.64,882.32 510.20,883.70 C513.99,885.17 517.89,887.50 521.20,890.20 C524.61,892.97 527.44,896.33 530.30,900.20 C533.60,904.68 536.79,910.27 539.50,915.80 C542.33,921.58 544.44,927.76 546.80,934.20 C549.35,941.17 551.79,948.71 554.20,956.20 C556.69,963.96 559.02,972.24 561.50,980.00 C563.89,987.49 566.30,994.84 568.80,1002.00 C571.21,1008.90 573.59,1017.08 576.20,1022.20 C577.97,1025.67 579.51,1029.08 581.70,1030.40 C583.34,1031.39 585.43,1031.39 587.20,1031.00 C589.11,1030.58 590.92,1029.40 592.70,1027.70 C595.25,1025.26 597.60,1021.03 600.00,1016.70 C603.12,1011.08 606.20,1003.40 609.20,996.50 C612.31,989.35 615.25,981.83 618.30,974.50 C621.35,967.16 624.31,959.44 627.50,952.50 C630.46,946.07 633.22,939.83 636.70,934.20 C640.00,928.87 643.68,923.98 647.70,919.50 C651.63,915.13 656.08,911.05 660.50,907.60 C664.63,904.38 668.67,901.93 673.30,899.30 C678.42,896.40 684.03,892.98 690.00,891.10 C696.23,889.14 702.43,888.87 710.00,888.00 C719.82,886.87 730.51,886.05 744.00,885.40 C763.79,884.44 790.58,884.26 817.30,883.90 C849.54,883.46 886.68,883.47 924.00,883.20 C965.20,882.91 1010.67,882.53 1054.00,882.20" fill="none" stroke="#000" stroke-width="2.3" stroke-linejoin="round" stroke-linecap="round"/>
<path d="M145.00,997.20 C152.30,998.60 159.63,1000.09 166.90,1001.40 C174.07,1002.69 181.36,1003.98 188.30,1005.00 C194.84,1005.96 200.03,1006.74 207.40,1007.40 C217.46,1008.30 230.42,1008.67 243.20,1009.30 C257.94,1010.03 274.93,1010.62 290.80,1011.50 C306.70,1012.38 325.36,1013.21 338.50,1014.60 C347.82,1015.59 354.97,1016.80 362.30,1018.10 C368.65,1019.23 373.69,1020.31 380.00,1021.80 C387.37,1023.54 395.94,1025.49 403.80,1028.10 C411.84,1030.77 420.25,1034.35 427.70,1037.70 C434.46,1040.74 442.55,1044.56 446.70,1047.20 C448.93,1048.62 449.22,1049.43 451.50,1051.00 C456.35,1054.33 467.78,1060.77 475.30,1065.10 C481.99,1068.96 488.44,1072.74 494.40,1075.80 C499.46,1078.40 503.81,1081.32 508.70,1082.50 C513.35,1083.62 517.90,1083.18 523.00,1083.00 C528.91,1082.79 536.05,1082.46 542.10,1081.00 C547.92,1079.60 552.80,1077.48 558.70,1074.60 C566.09,1071.00 574.69,1065.24 582.60,1060.30 C590.59,1055.31 598.83,1049.38 606.40,1044.80 C613.05,1040.78 619.11,1037.31 625.50,1034.10 C631.65,1031.01 637.55,1027.48 644.00,1025.80 C650.45,1024.12 657.05,1024.37 664.20,1024.00 C672.27,1023.58 679.83,1023.71 690.00,1023.60 C704.71,1023.45 720.74,1023.42 744.00,1023.30 C786.47,1023.09 868.87,1022.77 924.00,1022.50 C970.85,1022.27 1010.67,1022.03 1054.00,1021.80" fill="none" stroke="#000" stroke-width="2.3" stroke-linejoin="round" stroke-linecap="round"/>
<path d="M135.70,1283.10 C261.47,1283.10 409.69,1282.96 513.00,1283.10 C585.01,1283.20 650.98,1283.43 696.30,1283.60 C723.02,1283.70 744.28,1283.68 760.00,1283.90 C769.24,1284.03 775.61,1283.99 782.00,1284.40 C786.97,1284.72 791.54,1284.65 795.20,1285.80 C798.10,1286.71 800.37,1287.93 802.50,1289.80 C804.83,1291.85 806.55,1294.87 808.40,1297.90 C810.52,1301.37 812.35,1305.70 814.30,1309.60 C816.25,1313.50 818.20,1318.01 820.10,1321.30 C821.58,1323.87 822.71,1326.42 824.50,1327.90 C826.01,1329.15 827.98,1330.11 829.70,1330.10 C831.41,1330.09 833.08,1329.12 834.80,1327.90 C837.20,1326.19 839.60,1322.82 842.10,1319.90 C844.95,1316.57 847.75,1312.42 850.90,1308.90 C854.11,1305.32 857.51,1301.68 861.20,1298.60 C864.85,1295.56 868.86,1292.66 872.90,1290.50 C876.71,1288.46 880.48,1286.85 884.70,1285.80 C889.24,1284.67 894.00,1284.57 899.30,1284.20 C905.59,1283.76 910.20,1283.74 920.00,1283.60 C943.98,1283.25 1002.67,1283.60 1044.00,1283.60" fill="none" stroke="#000" stroke-width="2.3" stroke-linejoin="round" stroke-linecap="round"/>
<path d="M135.70,1361.60 C189.23,1361.83 238.76,1362.17 296.30,1362.30 C363.13,1362.45 447.79,1362.10 513.00,1362.30 C566.65,1362.46 633.18,1363.18 659.70,1363.20 C669.56,1363.21 672.94,1363.06 680.00,1363.10 C687.71,1363.14 696.97,1362.86 704.20,1363.50 C710.13,1364.03 715.46,1364.36 720.30,1366.10 C724.79,1367.71 728.58,1370.13 732.40,1373.20 C736.71,1376.67 740.51,1381.82 744.50,1386.30 C748.58,1390.88 752.81,1396.73 756.60,1400.40 C759.43,1403.14 761.84,1405.48 764.70,1406.90 C767.27,1408.17 769.96,1408.89 772.80,1408.90 C775.96,1408.91 779.28,1407.89 782.80,1406.50 C787.24,1404.74 792.18,1401.43 797.00,1398.40 C802.27,1395.09 807.53,1390.93 813.10,1387.30 C818.91,1383.52 824.87,1379.45 831.20,1376.20 C837.63,1372.90 844.55,1369.65 851.40,1367.70 C858.02,1365.81 864.27,1365.21 871.60,1364.50 C880.24,1363.67 886.89,1363.74 900.00,1363.50 C929.52,1362.97 996.00,1363.43 1044.00,1363.40" fill="none" stroke="#000" stroke-width="2.3" stroke-linejoin="round" stroke-linecap="round"/>
<path d="M135.70,1447.70 C164.80,1448.33 192.22,1449.11 223.00,1449.60 C257.55,1450.15 291.84,1450.41 333.00,1450.70 C385.65,1451.07 472.42,1450.93 513.00,1451.40 C533.74,1451.64 546.98,1451.82 560.00,1452.30 C569.27,1452.64 576.58,1452.84 583.80,1453.60 C589.88,1454.24 595.29,1454.46 600.50,1456.20 C605.60,1457.90 610.47,1460.59 614.80,1463.80 C619.22,1467.07 623.24,1471.04 626.70,1475.70 C630.51,1480.82 633.38,1487.95 636.30,1493.60 C638.89,1498.61 640.60,1504.35 643.40,1507.90 C645.55,1510.62 647.84,1512.63 650.60,1513.90 C653.40,1515.19 656.61,1515.46 660.10,1515.50 C664.38,1515.55 669.35,1514.64 674.40,1513.40 C680.37,1511.93 687.01,1509.28 693.50,1506.70 C700.49,1503.93 707.83,1500.72 714.90,1497.20 C722.14,1493.60 729.29,1489.44 736.40,1485.30 C743.59,1481.11 750.75,1475.89 757.80,1472.20 C764.23,1468.84 770.25,1466.05 776.90,1463.80 C783.73,1461.49 791.10,1459.87 798.30,1458.60 C805.47,1457.34 812.65,1456.80 820.00,1456.20 C827.55,1455.59 833.25,1455.30 843.00,1455.00 C860.00,1454.47 886.04,1454.47 913.00,1454.30 C949.88,1454.07 1000.33,1454.10 1044.00,1454.00" fill="none" stroke="#000" stroke-width="2.3" stroke-linejoin="round" stroke-linecap="round"/>
<path d="M135.70,1523.00 C164.80,1524.00 192.22,1525.07 223.00,1526.00 C257.55,1527.05 298.01,1528.02 333.00,1528.90 C364.93,1529.70 406.84,1530.43 424.60,1531.10 C431.88,1531.38 434.09,1531.38 440.00,1531.90 C448.08,1532.62 459.34,1533.67 468.60,1535.50 C477.59,1537.27 486.36,1539.76 494.80,1542.60 C503.01,1545.36 511.57,1548.35 518.60,1552.20 C524.89,1555.64 530.21,1559.44 535.30,1564.10 C540.57,1568.92 545.25,1574.88 549.60,1580.80 C553.99,1586.78 557.57,1593.34 561.50,1599.80 C565.53,1606.43 569.68,1613.90 573.50,1620.10 C576.80,1625.46 579.57,1632.15 583.00,1634.90 C585.25,1636.70 587.21,1637.36 590.10,1637.50 C594.47,1637.72 601.97,1635.79 606.80,1633.20 C611.45,1630.71 614.97,1626.80 618.70,1622.50 C623.02,1617.52 626.61,1611.05 630.70,1604.60 C635.35,1597.28 640.58,1587.48 645.00,1580.80 C648.37,1575.70 650.76,1571.14 654.50,1567.70 C657.97,1564.51 661.96,1562.50 666.40,1560.50 C671.38,1558.26 677.78,1556.91 683.10,1555.30 C687.94,1553.83 692.20,1552.58 697.00,1551.20 C702.14,1549.72 707.61,1548.05 713.00,1546.70 C718.44,1545.34 723.73,1544.17 729.50,1543.10 C735.78,1541.94 742.01,1540.85 749.30,1540.10 C758.18,1539.19 768.84,1538.88 779.00,1538.50 C789.71,1538.10 798.00,1537.96 812.00,1537.80 C836.49,1537.53 877.15,1537.66 913.00,1537.70 C953.83,1537.74 1000.33,1537.97 1044.00,1538.10" fill="none" stroke="#000" stroke-width="2.3" stroke-linejoin="round" stroke-linecap="round"/>
<path d="M135.00,1618.30 C146.00,1620.50 156.22,1622.49 168.00,1624.90 C181.62,1627.69 198.79,1631.73 212.00,1634.10 C222.73,1636.03 229.98,1637.35 241.30,1638.50 C256.74,1640.06 277.97,1640.18 296.30,1641.40 C314.64,1642.62 335.93,1644.30 351.30,1645.80 C362.42,1646.88 369.96,1647.70 380.00,1649.10 C391.15,1650.66 403.75,1652.65 415.20,1654.90 C426.23,1657.07 437.38,1659.20 447.50,1662.30 C456.85,1665.16 465.94,1669.77 473.90,1672.50 C480.31,1674.70 485.35,1676.57 491.50,1677.80 C498.01,1679.10 504.93,1679.85 512.00,1679.90 C519.56,1679.95 527.47,1678.96 535.50,1677.80 C544.08,1676.56 554.91,1674.33 561.90,1672.50 C566.63,1671.26 569.30,1670.11 573.60,1668.70 C578.87,1666.98 585.67,1665.14 591.20,1662.90 C596.39,1660.80 600.90,1657.47 605.90,1655.80 C610.67,1654.20 615.04,1653.79 620.50,1652.90 C627.39,1651.78 635.72,1650.75 644.00,1649.90 C653.22,1648.95 663.76,1648.24 673.30,1647.60 C682.40,1646.99 689.00,1646.46 700.00,1646.10 C717.74,1645.53 742.25,1645.66 769.60,1645.50 C808.85,1645.28 866.28,1645.13 913.00,1645.10 C957.65,1645.07 1000.33,1645.23 1044.00,1645.30" fill="none" stroke="#000" stroke-width="2.3" stroke-linejoin="round" stroke-linecap="round"/>
<line x1="769.4" y1="234.5" x2="778.2" y2="506.5" stroke="#000" stroke-width="1.7" stroke-dasharray="1.7 2.15"/>
<polyline points="768.3,498.2 778.4,515.1 787.1,497.3" fill="none" stroke="#000" stroke-width="1.6" stroke-linejoin="miter"/>
<line x1="702.8" y1="785.0" x2="711.9" y2="1104.5" stroke="#000" stroke-width="1.7" stroke-dasharray="1.7 2.15"/>
<polyline points="702.3,1093.6 711.9,1108.9 720.5,1093.2" fill="none" stroke="#000" stroke-width="1.6" stroke-linejoin="miter"/>
<line x1="777.1" y1="1412.8" x2="785.9" y2="1709.0" stroke="#000" stroke-width="1.7" stroke-dasharray="1.7 2.15"/>
<polyline points="776.5,1702.5 786.2,1718.7 795.1,1701.9" fill="none" stroke="#000" stroke-width="1.6" stroke-linejoin="miter"/>
<line x1="877" y1="482.6" x2="931.5" y2="482.6" stroke="#000" stroke-width="1.9"/>
<polygon points="868.7,482.6 878.2,477.4 878.2,487.8" fill="#000"/>
</svg>
</body></html>
